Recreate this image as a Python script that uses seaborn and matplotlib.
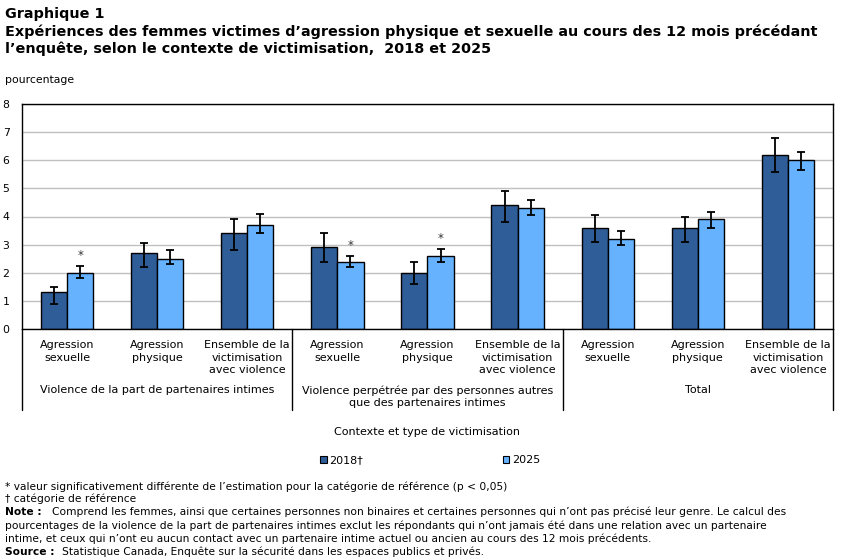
import matplotlib
matplotlib.use("Agg")
import matplotlib.pyplot as plt
import seaborn as sns
import pandas as pd
import numpy as np
from matplotlib.patches import Patch
from matplotlib.lines import Line2D

# ---- data ----
types = ["Agression\nsexuelle", "Agression\nphysique", "Ensemble de la\nvictimisation\navec violence"]
groups = ["Violence de la part de partenaires intimes",
          "Violence perpétrée par des personnes autres\nque des partenaires intimes",
          "Total"]
years = ["2018†", "2025"]
val_2018 = [1.3, 2.7, 3.4, 2.9, 2.0, 4.4, 3.6, 3.6, 6.2]
val_2025 = [2.0, 2.5, 3.7, 2.4, 2.6, 4.3, 3.2, 3.9, 6.0]
low_2018 = [0.9, 2.2, 2.8, 2.4, 1.6, 3.8, 3.1, 3.1, 5.6]
high_2018 = [1.5, 3.05, 3.9, 3.4, 2.4, 4.9, 4.05, 4.0, 6.8]
low_2025 = [1.8, 2.3, 3.4, 2.2, 2.4, 4.05, 3.0, 3.6, 5.65]
high_2025 = [2.25, 2.8, 4.1, 2.6, 2.85, 4.6, 3.5, 4.15, 6.3]
signif_2025 = [True, False, False, True, True, False, False, False, False]

cat_keys = [f"{g}|{t}" for g in range(3) for t in range(3)]
cat_labels = [types[t] for g in range(3) for t in range(3)]

df = pd.DataFrame({
    "cle": cat_keys * 2,
    "annee": [years[0]] * 9 + [years[1]] * 9,
    "valeur": val_2018 + val_2025,
})

c2018 = "#2F5D98"
c2025 = "#66B2FF"

sns.set_theme(style="white")
plt.rcParams["font.family"] = ["DejaVu Sans"]
plt.rcParams["text.color"] = "black"
plt.rcParams["xtick.color"] = "black"
plt.rcParams["ytick.color"] = "black"

W, H = 850, 560
fig = plt.figure(figsize=(W / 100, H / 100), dpi=100)
ax = fig.add_axes([22 / W, 1 - 329 / H, (833 - 22) / W, (329 - 104) / H])

sns.barplot(data=df, x="cle", y="valeur", hue="annee", order=cat_keys,
            hue_order=years, palette=[c2018, c2025], errorbar=None,
            width=0.58, edgecolor="black", linewidth=1.0, ax=ax, legend=False,
            saturation=1)

lows = [low_2018, low_2025]
highs = [high_2018, high_2025]
vals = [val_2018, val_2025]
bar_conts = list(ax.containers)
for k, cont in enumerate(bar_conts):
    for i, bar in enumerate(cont.patches):
        xc = bar.get_x() + bar.get_width() / 2
        v = vals[k][i]
        ax.errorbar(xc, v, yerr=[[v - lows[k][i]], [highs[k][i] - v]],
                    fmt="none", ecolor="black", elinewidth=1.3, capsize=2.8, capthick=1.3, zorder=5)
        if k == 1 and signif_2025[i]:
            ax.text(xc, highs[k][i] + 0.14, "*", ha="center", va="bottom", fontsize=8.5, color="#333333")

ax.set_ylim(0, 8)
ax.set_xlim(-0.5, 8.5)
ax.set_yticks(range(0, 9))
ax.set_yticklabels([str(i) for i in range(9)], fontsize=7.8)
ax.yaxis.grid(True, color="#C0C0C0", linewidth=1.0)
ax.set_axisbelow(True)
ax.tick_params(axis="y", length=0, pad=9)
ax.tick_params(axis="x", length=0, pad=8)
ax.set_xticks(range(9))
ax.set_xticklabels(cat_labels, fontsize=8, linespacing=1.3)
ax.set_xlabel("")
ax.set_ylabel("")
for s in ax.spines.values():
    s.set_color("black")
    s.set_linewidth(1.0)

# group separators
for xp in [-0.5, 2.5, 5.5, 8.5]:
    ax.add_line(Line2D([xp, xp], [0, -2.88], color="black", linewidth=1.0, clip_on=False,
                       transform=ax.transData))
for g in range(3):
    ax.text(3 * g + 1, -2.0, groups[g], ha="center", va="top", fontsize=8, linespacing=1.3)

fig.text(427 / W, 1 - 432 / H, "Contexte et type de victimisation", ha="center", va="center", fontsize=8)

handles = [Patch(facecolor=c2018, edgecolor="black", linewidth=0.8),
           Patch(facecolor=c2025, edgecolor="black", linewidth=0.8)]
fig.legend(handles, years, loc="center", bbox_to_anchor=(430 / W, 1 - 460 / H), ncol=2,
           frameon=False, fontsize=8, handlelength=0.6, handleheight=0.6,
           handletextpad=0.2, columnspacing=12.6)

# titles
tfs = 10.4
fig.text(5 / W, 1 - 14 / H, "Graphique 1", ha="left", va="center", fontsize=tfs, fontweight="bold")
fig.text(5 / W, 1 - 32 / H,
         "Expériences des femmes victimes d’agression physique et sexuelle au cours des 12 mois précédant",
         ha="left", va="center", fontsize=tfs, fontweight="bold")
fig.text(5 / W, 1 - 49 / H, "l’enquête, selon le contexte de victimisation,  2018 et 2025",
         ha="left", va="center", fontsize=tfs, fontweight="bold")
fig.text(5 / W, 1 - 80 / H, "pourcentage", ha="left", va="center", fontsize=7.8)

# footnotes
fs = 7.7
fig.text(5 / W, 1 - 487 / H, "* valeur significativement différente de l’estimation pour la catégorie de référence (p < 0,05)",
         ha="left", va="center", fontsize=fs)
fig.text(5 / W, 1 - 499 / H, "† catégorie de référence", ha="left", va="center", fontsize=fs)
fig.text(5 / W, 1 - 512 / H, "Note :", ha="left", va="center", fontsize=fs, fontweight="bold")
fig.text(52 / W, 1 - 512 / H,
         "Comprend les femmes, ainsi que certaines personnes non binaires et certaines personnes qui n’ont pas précisé leur genre. Le calcul des",
         ha="left", va="center", fontsize=fs)
fig.text(5 / W, 1 - 526 / H,
         "pourcentages de la violence de la part de partenaires intimes exclut les répondants qui n’ont jamais été dans une relation avec un partenaire",
         ha="left", va="center", fontsize=fs)
fig.text(5 / W, 1 - 539 / H,
         "intime, et ceux qui n’ont eu aucun contact avec un partenaire intime actuel ou ancien au cours des 12 mois précédents.",
         ha="left", va="center", fontsize=fs)
fig.text(5 / W, 1 - 552 / H, "Source :", ha="left", va="center", fontsize=fs, fontweight="bold")
fig.text(62 / W, 1 - 552 / H, "Statistique Canada, Enquête sur la sécurité dans les espaces publics et privés.",
         ha="left", va="center", fontsize=fs)

fig.savefig("out.png", dpi=100)
